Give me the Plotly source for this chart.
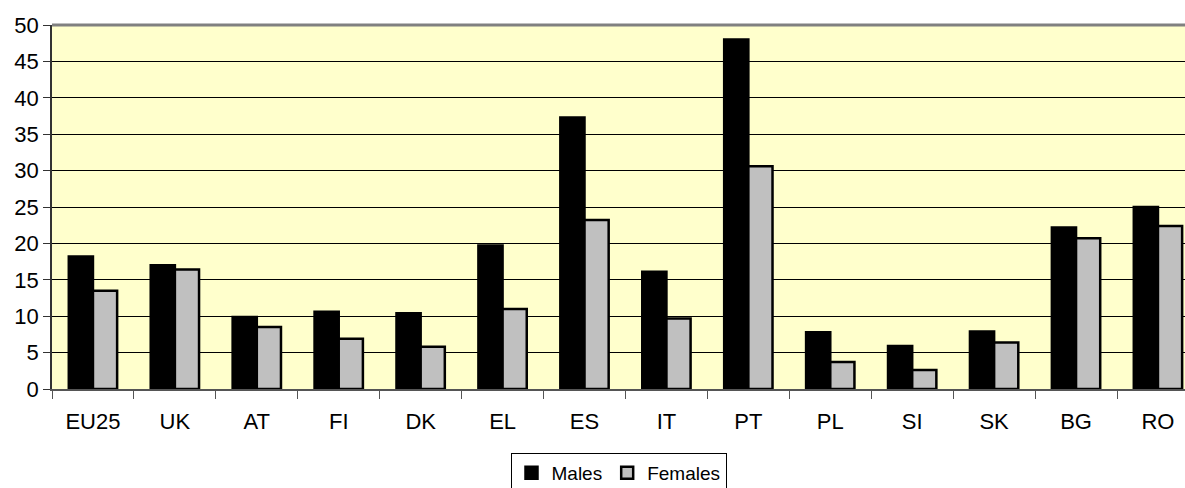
import plotly.graph_objects as go

countries = ["EU25", "UK", "AT", "FI", "DK", "EL", "ES", "IT", "PT", "PL", "SI", "SK", "BG", "RO"]
males = [18.2, 17.0, 9.9, 10.6, 10.4, 19.7, 37.3, 16.1, 48.0, 7.8, 5.9, 7.9, 22.2, 25.0]
females = [13.5, 16.4, 8.5, 6.9, 5.8, 11.0, 23.2, 9.7, 30.6, 3.7, 2.6, 6.4, 20.7, 22.4]
y_ticks = list(range(0, 55, 5))

fig = go.Figure()
fig.add_trace(go.Bar(
    x=countries, y=males, name="Males",
    marker=dict(color="#000000", line=dict(color="#000000", width=2.5)),
))
fig.add_trace(go.Bar(
    x=countries, y=females, name="Females",
    marker=dict(color="#C0C0C0", line=dict(color="#000000", width=2.5)),
))

# top frame line of the plot area
fig.add_shape(type="line", xref="paper", yref="paper", x0=0, x1=1, y0=1, y1=1,
              line=dict(color="#808080", width=3))

fig.update_layout(
    width=1185, height=488,
    margin=dict(l=52, r=0, t=25, b=99, autoexpand=False),
    paper_bgcolor="#FFFFFF",
    plot_bgcolor="#FFFFCC",
    barmode="group",
    bargap=0.41,
    bargroupgap=0,
    font=dict(family="Liberation Sans, Arial, sans-serif", size=21, color="#000000"),
    showlegend=True,
    legend=dict(
        orientation="h", xref="paper", x=0.5, xanchor="center",
        yref="container", y=0.072, yanchor="top",
        bordercolor="#000000", borderwidth=1, bgcolor="#FFFFFF",
        font=dict(size=19), itemwidth=30, tracegroupgap=0,
    ),
    xaxis=dict(
        range=[-0.5, 13.33],
        tickson="boundaries", ticks="outside", ticklen=8, tickcolor="#555555",
        ticklabelstandoff=12,
        showline=True, linecolor="#555555", linewidth=1.5,
        showgrid=False, tickfont=dict(size=22), fixedrange=True,
    ),
    yaxis=dict(
        range=[0, 50], tickvals=y_ticks,
        ticks="outside", ticklen=7, tickcolor="#333333",
        showline=True, linecolor="#333333", linewidth=1.5,
        showgrid=True, gridcolor="#000000", gridwidth=1,
        zeroline=False, tickfont=dict(size=22), fixedrange=True,
    ),
)

fig.write_html("out.html")
